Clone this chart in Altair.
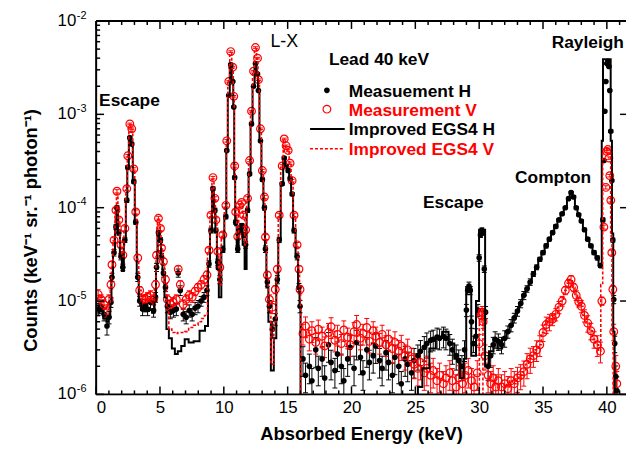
import altair as alt
import pandas as pd

# ---------------- data ----------------
# measurement H : (energy keV, counts, relative error)
MEAS_H = [
    (0.16, 8.2e-6, .15), (0.39, 8.6e-6, .15), (0.62, 7.2e-6, .15), (0.85, 5.4e-6, .2),
    (1.01, 6.7e-6, .15), (1.16, 9.7e-6, .12), (1.24, 1.8e-5, .1), (1.40, 3.3e-5, .08),
    (1.55, 6.2e-5, .06), (1.63, 1.0e-4, .05), (1.78, 5.4e-5, .06), (1.94, 3.0e-5, .08),
    (2.09, 2.3e-5, .08), (2.25, 4.5e-5, .06), (2.40, 1.2e-4, .05), (2.48, 2.7e-4, .04),
    (2.64, 5.6e-4, .03), (2.79, 4.8e-4, .03), (2.95, 1.9e-4, .04), (3.10, 7.0e-5, .05),
    (3.26, 1.8e-5, .1), (3.41, 1.0e-5, .12), (3.64, 8.2e-6, .15), (3.87, 9.0e-6, .15),
    (4.03, 8.2e-6, .15), (4.26, 9.7e-6, .15), (4.50, 7.9e-6, .15), (4.65, 1.1e-5, .12),
    (4.73, 2.3e-5, .1), (4.88, 5.4e-5, .06), (5.04, 4.5e-5, .06), (5.12, 3.0e-5, .08),
    (5.27, 2.0e-5, .1), (5.43, 1.4e-5, .1), (5.58, 8.8e-6, .15), (5.81, 7.6e-6, .15),
    (6.05, 7.9e-6, .15), (6.28, 8.2e-6, .15), (6.43, 2.0e-5, .1), (6.59, 1.3e-5, .12),
    (6.82, 7.2e-6, .15), (7.05, 6.7e-6, .15), (7.29, 7.9e-6, .15), (7.52, 7.2e-6, .15),
    (7.75, 8.4e-6, .15), (7.98, 8.8e-6, .15), (8.22, 1.0e-5, .12), (8.45, 1.1e-5, .12),
    (8.68, 1.3e-5, .12), (8.84, 2.5e-5, .08), (8.99, 5.7e-5, .06), (9.15, 1.6e-4, .04),
    (9.30, 9.4e-5, .05), (9.38, 5.7e-5, .06), (9.53, 2.6e-5, .08), (9.69, 1.7e-5, .1),
    (9.92, 3.6e-5, .08), (10.16, 8.0e-5, .05), (10.23, 4.1e-4, .03), (10.39, 1.6e-3, .02),
    (10.54, 3.4e-3, .02), (10.70, 2.25e-3, .02), (10.78, 1.2e-3, .02), (10.85, 2.1e-4, .04),
    (10.93, 7.0e-5, .05), (11.09, 3.6e-5, .08), (11.24, 5.7e-5, .06), (11.40, 6.4e-5, .06),
    (11.55, 5.1e-5, .06), (11.71, 4.0e-5, .08), (11.86, 9.4e-5, .05), (12.02, 2.3e-4, .04),
    (12.17, 7.9e-4, .03), (12.33, 2.0e-3, .02), (12.48, 3.5e-3, .02), (12.64, 2.7e-3, .02),
    (12.71, 1.8e-3, .02), (12.87, 5.2e-4, .03), (13.02, 2.0e-4, .04), (13.18, 1.0e-4, .05),
    (13.26, 3.6e-5, .08), (13.41, 1.6e-5, .1), (13.57, 8.8e-6, .15), (13.80, 5.0e-6, .2),
    (14.03, 6.4e-6, .15), (14.19, 1.7e-5, .1), (14.34, 4.5e-5, .06), (14.57, 1.8e-4, .04),
    (14.73, 3.4e-4, .03), (14.88, 2.8e-4, .03), (15.04, 2.5e-4, .04), (15.19, 2.05e-4, .04),
    (15.35, 1.4e-4, .04), (15.50, 5.7e-5, .06), (15.74, 3.0e-5, .08), (15.89, 1.4e-5, .1),
    (15.97, 8.8e-6, .15),
    (16.2, 2.4e-6, .35), (16.4, 1.6e-6, .35), (16.7, 2.0e-6, .35), (16.9, 1.4e-6, .35),
    (17.2, 3.0e-6, .35), (17.4, 1.9e-6, .35), (17.7, 2.4e-6, .35), (17.9, 1.5e-6, .35),
    (18.2, 3.4e-6, .35), (18.4, 2.2e-6, .35), (18.7, 1.8e-6, .35), (18.9, 2.7e-6, .35),
    (19.2, 2.0e-6, .35), (19.4, 1.4e-6, .35), (19.7, 2.4e-6, .35), (19.9, 3.2e-6, .35),
    (20.2, 1.9e-6, .35), (20.4, 3.6e-6, .35), (20.7, 2.5e-6, .35), (20.9, 1.7e-6, .35),
    (21.2, 3.0e-6, .35), (21.4, 2.2e-6, .35), (21.7, 2.6e-6, .35), (21.9, 3.3e-6, .35),
    (22.2, 2.3e-6, .35), (22.4, 1.9e-6, .35), (22.7, 2.8e-6, .35), (22.9, 2.2e-6, .35),
    (23.2, 1.6e-6, .35), (23.4, 2.5e-6, .35), (23.7, 2.0e-6, .35), (23.9, 1.3e-6, .35),
    (24.2, 2.4e-6, .35), (24.4, 2.1e-6, .35), (24.7, 1.7e-6, .35), (24.9, 2.3e-6, .35),
    (25.2, 2.6e-6, .3), (25.4, 2.9e-6, .3), (25.7, 3.2e-6, .3), (25.9, 3.5e-6, .3),
    (26.2, 3.8e-6, .25), (26.4, 3.9e-6, .25), (26.7, 4.1e-6, .25), (26.9, 4.0e-6, .25),
    (27.2, 4.2e-6, .25), (27.4, 4.0e-6, .25), (27.7, 3.5e-6, .25), (27.9, 3.0e-6, .3),
    (28.2, 2.6e-6, .3), (28.4, 2.3e-6, .3), (28.65, 2.0e-6, .3), (28.85, 3.0e-6, .25),
    (29.0, 8.0e-6, .15), (29.1, 1.3e-5, .1), (29.2, 1.45e-5, .1), (29.3, 1.3e-5, .1),
    (29.4, 6.0e-6, .15), (29.55, 3.5e-6, .2), (29.75, 4.2e-6, .2), (29.9, 8.0e-6, .15),
    (30.0, 2.9e-5, .08), (30.1, 5.1e-5, .06), (30.2, 5.7e-5, .06), (30.3, 5.4e-5, .06),
    (30.4, 2.2e-5, .08), (30.5, 7.6e-6, .15), (30.7, 2.0e-6, .3), (30.9, 2.6e-6, .25),
    (31.1, 3.4e-6, .2), (31.25, 3.9e-6, .2), (31.5, 3.7e-6, .2), (31.75, 3.4e-6, .2),
    (32.0, 4.0e-6, .2), (32.25, 4.7e-6, .15), (32.5, 5.5e-6, .15), (32.75, 6.6e-6, .12),
    (33.0, 7.8e-6, .12), (33.25, 9.4e-6, .1), (33.5, 1.15e-5, .1), (33.75, 1.35e-5, .08),
    (34.0, 1.6e-5, .08), (34.25, 1.95e-5, .06), (34.5, 2.3e-5, .06), (34.75, 2.8e-5, .05),
    (35.0, 3.3e-5, .05), (35.25, 3.9e-5, .05), (35.5, 4.6e-5, .04), (35.75, 5.4e-5, .04),
    (36.0, 6.3e-5, .04), (36.25, 7.4e-5, .03), (36.5, 8.6e-5, .03), (36.75, 1.0e-4, .03),
    (37.0, 1.25e-4, .03), (37.2, 1.45e-4, .03), (37.4, 1.3e-4, .03), (37.6, 1.0e-4, .03),
    (37.8, 8.4e-5, .03), (38.0, 7.2e-5, .03), (38.25, 5.8e-5, .04), (38.5, 4.6e-5, .04),
    (38.75, 3.9e-5, .04), (39.0, 3.3e-5, .05), (39.25, 2.9e-5, .05), (39.5, 2.4e-5, .05),
    (39.69, 7.4e-5, .05), (39.77, 3.2e-4, .03), (39.84, 1.08e-3, .02), (39.92, 2.25e-3, .02),
    (40.0, 3.5e-3, .02), (40.08, 3.7e-3, .02), (40.16, 3.25e-3, .02), (40.23, 1.8e-3, .02),
    (40.31, 6.6e-4, .03), (40.39, 1.95e-4, .03), (40.47, 4.5e-5, .05), (40.54, 1.04e-5, .1),
    (40.62, 3.5e-6, .2), (40.70, 1.55e-6, .3), (40.78, 1.1e-6, .4),
]

# measurement V : (energy keV, counts, relative error)
MEAS_V = [
    (0.16, 1.18e-5, .12), (0.39, 1.04e-5, .12), (0.62, 9.2e-6, .12), (0.85, 7.9e-6, .15),
    (1.01, 1.04e-5, .12), (1.16, 1.5e-5, .1), (1.24, 2.45e-5, .08), (1.40, 4.5e-5, .06),
    (1.55, 9.4e-5, .05), (1.63, 1.5e-4, .04), (1.78, 7.4e-5, .05), (1.94, 4.0e-5, .06),
    (2.09, 3.1e-5, .08), (2.25, 6.0e-5, .06), (2.40, 1.6e-4, .04), (2.48, 3.6e-4, .03),
    (2.64, 7.9e-4, .02), (2.79, 7.0e-4, .02), (2.95, 2.6e-4, .03), (3.10, 9.0e-5, .05),
    (3.26, 2.9e-5, .08), (3.41, 1.3e-5, .1), (3.64, 1.04e-5, .12), (3.87, 1.05e-5, .12),
    (4.03, 1.1e-5, .12), (4.26, 1.15e-5, .12), (4.50, 1.04e-5, .12), (4.65, 1.5e-5, .1),
    (4.73, 3.1e-5, .08), (4.88, 7.7e-5, .05), (5.04, 6.0e-5, .06), (5.12, 3.7e-5, .06),
    (5.27, 2.65e-5, .08), (5.43, 1.7e-5, .1), (5.58, 1.04e-5, .12), (5.81, 9.2e-6, .12),
    (6.05, 9.7e-6, .12), (6.28, 1.04e-5, .12), (6.43, 2.2e-5, .08), (6.59, 1.5e-5, .1),
    (6.82, 9.2e-6, .12), (7.05, 1.04e-5, .12), (7.29, 1.15e-5, .12), (7.52, 1.1e-5, .12),
    (7.75, 1.27e-5, .1), (7.98, 1.4e-5, .1), (8.22, 1.5e-5, .1), (8.45, 1.7e-5, .1),
    (8.68, 1.9e-5, .1), (8.84, 3.5e-5, .06), (8.99, 8.3e-5, .05), (9.15, 2.1e-4, .03),
    (9.30, 1.26e-4, .04), (9.38, 7.4e-5, .05), (9.53, 3.4e-5, .06), (9.69, 2.3e-5, .08),
    (9.92, 5.1e-5, .06), (10.16, 1.06e-4, .04), (10.23, 5.2e-4, .03), (10.39, 2.25e-3, .02),
    (10.54, 4.7e-3, .02), (10.70, 3.2e-3, .02), (10.78, 1.56e-3, .02), (10.85, 2.8e-4, .03),
    (10.93, 9.0e-5, .05), (11.09, 4.9e-5, .06), (11.24, 1.06e-4, .04), (11.40, 1.14e-4, .04),
    (11.55, 8.3e-5, .05), (11.71, 5.8e-5, .06), (11.86, 1.26e-4, .04), (12.02, 3.2e-4, .03),
    (12.17, 1.08e-3, .02), (12.33, 2.9e-3, .02), (12.48, 5.2e-3, .02), (12.64, 4.0e-3, .02),
    (12.71, 2.35e-3, .02), (12.87, 7.0e-4, .02), (13.02, 2.5e-4, .03), (13.18, 1.3e-4, .04),
    (13.26, 4.85e-5, .06), (13.41, 1.9e-5, .08), (13.57, 1.04e-5, .12), (13.80, 8.6e-6, .15),
    (14.03, 1.33e-5, .1), (14.19, 2.2e-5, .08), (14.34, 8.3e-5, .05), (14.57, 2.8e-4, .03),
    (14.73, 5.45e-4, .02), (14.88, 4.6e-4, .02), (15.04, 4.1e-4, .03), (15.19, 3.0e-4, .03),
    (15.35, 1.95e-4, .03), (15.50, 8.3e-5, .05), (15.74, 4.0e-5, .06), (15.89, 2.2e-5, .08),
    (15.97, 1.33e-5, .1),
    (16.2, 4.5e-6, .25), (16.4, 5.4e-6, .25), (16.7, 3.9e-6, .25), (16.9, 4.8e-6, .25),
    (17.2, 3.6e-6, .25), (17.4, 5.0e-6, .25), (17.7, 4.2e-6, .25), (17.9, 3.3e-6, .25),
    (18.2, 4.6e-6, .25), (18.4, 5.3e-6, .25), (18.7, 3.8e-6, .25), (18.9, 4.4e-6, .25),
    (19.2, 3.5e-6, .25), (19.4, 4.9e-6, .25), (19.7, 4.1e-6, .25), (19.9, 3.4e-6, .25),
    (20.2, 4.7e-6, .25), (20.4, 5.6e-6, .25), (20.7, 4.0e-6, .25), (20.9, 4.5e-6, .25),
    (21.2, 5.2e-6, .25), (21.4, 3.7e-6, .25), (21.7, 4.8e-6, .25), (21.9, 4.2e-6, .25),
    (22.2, 3.6e-6, .25), (22.4, 4.4e-6, .25), (22.7, 3.4e-6, .25), (22.9, 3.9e-6, .25),
    (23.2, 3.1e-6, .3), (23.4, 3.6e-6, .3), (23.7, 2.9e-6, .3), (23.9, 3.3e-6, .3),
    (24.2, 2.6e-6, .3), (24.4, 3.0e-6, .3), (24.7, 2.4e-6, .3), (24.9, 2.1e-6, .3),
    (25.2, 1.9e-6, .35), (25.4, 2.2e-6, .35), (25.7, 1.7e-6, .35), (25.9, 1.9e-6, .35),
    (26.2, 1.6e-6, .35), (26.4, 1.8e-6, .35), (26.7, 1.4e-6, .35), (26.9, 1.6e-6, .35),
    (27.2, 1.3e-6, .35), (27.4, 1.5e-6, .35), (27.7, 1.7e-6, .35), (27.9, 1.4e-6, .35),
    (28.2, 1.2e-6, .35), (28.4, 1.5e-6, .35), (28.7, 1.3e-6, .35), (28.9, 1.6e-6, .35),
    (29.15, 1.8e-6, .35), (29.4, 1.4e-6, .35), (29.6, 1.2e-6, .35), (29.85, 1.7e-6, .35),
    (30.0, 3.5e-6, .25), (30.16, 7.0e-6, .15), (30.23, 7.6e-6, .15), (30.31, 6.0e-6, .15),
    (30.46, 2.6e-6, .3), (30.7, 1.6e-6, .35), (30.9, 1.3e-6, .35), (31.1, 1.5e-6, .35),
    (31.3, 1.2e-6, .35), (31.5, 1.4e-6, .35), (31.75, 1.2e-6, .35), (32.0, 1.3e-6, .35),
    (32.25, 1.15e-6, .35), (32.5, 1.4e-6, .35), (32.75, 1.3e-6, .35), (33.0, 1.5e-6, .3),
    (33.25, 1.6e-6, .3), (33.5, 1.75e-6, .3), (33.75, 2.1e-6, .3), (34.0, 2.4e-6, .3),
    (34.25, 2.6e-6, .25), (34.5, 3.0e-6, .25), (34.75, 3.4e-6, .25), (35.0, 4.6e-6, .2),
    (35.25, 5.6e-6, .2), (35.5, 6.0e-6, .2), (35.75, 6.4e-6, .15), (36.0, 7.2e-6, .15),
    (36.25, 8.6e-6, .15), (36.5, 1.0e-5, .12), (36.75, 1.3e-5, .1), (37.0, 1.55e-5, .1),
    (37.2, 1.7e-5, .1), (37.4, 1.4e-5, .1), (37.6, 1.15e-5, .12), (37.8, 9.8e-6, .12),
    (38.0, 8.8e-6, .15), (38.25, 7.0e-6, .15), (38.5, 5.8e-6, .2), (38.75, 4.8e-6, .2),
    (39.0, 3.9e-6, .2), (39.25, 3.4e-6, .25), (39.5, 2.9e-6, .25),
    (39.61, 1.0e-5, .1), (39.77, 6.2e-5, .05), (39.92, 1.65e-4, .04), (40.0, 4.0e-4, .03),
    (40.08, 4.2e-4, .03), (40.16, 3.4e-4, .03), (40.23, 2.2e-4, .03), (40.31, 1.2e-4, .04),
    (40.39, 3.3e-5, .06), (40.47, 1.33e-5, .1), (40.54, 4.7e-6, .2), (40.70, 2.0e-6, .3),
    (40.78, 1.3e-6, .35),
]

# Improved EGS4 H (step histogram): (energy keV, counts); 3e-7 = below the axis
SIM_H = [
    (0.1, 7.5e-6), (0.4, 7.8e-6), (0.7, 6.5e-6), (0.9, 6.0e-6), (1.05, 6.8e-6),
    (1.16, 9.5e-6), (1.24, 1.8e-5), (1.40, 3.3e-5), (1.55, 6.2e-5), (1.63, 1.0e-4),
    (1.78, 5.4e-5), (1.94, 3.0e-5), (2.09, 2.1e-5), (2.25, 4.5e-5), (2.40, 1.2e-4),
    (2.48, 2.7e-4), (2.64, 5.8e-4), (2.79, 5.0e-4), (2.95, 1.9e-4), (3.10, 7.0e-5),
    (3.26, 1.8e-5), (3.41, 1.0e-5), (3.64, 8.0e-6), (4.03, 7.8e-6), (4.26, 8.0e-6),
    (4.50, 7.5e-6), (4.65, 1.0e-5), (4.73, 2.2e-5), (4.88, 5.4e-5), (5.04, 4.5e-5),
    (5.12, 3.0e-5), (5.27, 1.9e-5), (5.43, 1.1e-5), (5.58, 5.0e-6), (5.81, 4.0e-6),
    (6.05, 3.1e-6), (6.28, 2.7e-6), (6.51, 2.9e-6), (6.82, 3.3e-6), (7.05, 3.9e-6),
    (7.44, 3.6e-6), (7.83, 3.7e-6), (8.37, 4.8e-6), (8.68, 5.4e-6), (8.84, 2.4e-5),
    (8.99, 5.6e-5), (9.15, 1.6e-4), (9.30, 9.4e-5), (9.38, 5.5e-5), (9.53, 2.2e-5),
    (9.69, 1.1e-5), (9.92, 3.4e-5), (10.16, 8.0e-5), (10.23, 4.1e-4), (10.39, 1.6e-3),
    (10.54, 3.5e-3), (10.70, 2.3e-3), (10.78, 1.2e-3), (10.85, 2.1e-4), (10.93, 6.5e-5),
    (11.09, 3.4e-5), (11.24, 5.5e-5), (11.40, 6.0e-5), (11.55, 4.0e-5), (11.71, 2.2e-5),
    (11.86, 9.0e-5), (12.02, 2.3e-4), (12.17, 7.9e-4), (12.33, 2.0e-3), (12.48, 3.6e-3),
    (12.64, 2.8e-3), (12.71, 1.8e-3), (12.87, 5.2e-4), (13.02, 2.0e-4), (13.18, 9.5e-5),
    (13.26, 3.4e-5), (13.41, 1.4e-5), (13.57, 6.0e-6), (13.80, 1.8e-6), (14.03, 4.0e-6),
    (14.19, 1.6e-5), (14.34, 4.5e-5), (14.57, 1.8e-4), (14.73, 3.5e-4), (14.88, 2.8e-4),
    (15.04, 2.5e-4), (15.19, 2.0e-4), (15.35, 1.4e-4), (15.50, 5.7e-5), (15.74, 3.0e-5),
    (15.89, 1.4e-5), (15.97, 9.0e-6), (16.05, 3e-7), (25.1, 3e-7), (25.3, 1.2e-6),
    (25.8, 1.9e-6), (26.4, 3.1e-6), (26.8, 4.1e-6), (27.4, 4.7e-6), (27.8, 3.5e-6),
    (28.3, 2.4e-6), (28.7, 1.5e-6), (28.9, 2.4e-6), (29.07, 1.4e-5), (29.3, 1.4e-5),
    (29.46, 2.6e-6), (29.6, 2.6e-6), (29.9, 1.0e-5), (30.08, 5.8e-5), (30.23, 6.0e-5),
    (30.39, 5.8e-5), (30.54, 2.0e-6), (31.0, 2.9e-6), (31.25, 3.9e-6), (31.6, 3.1e-6),
    (32.0, 4.0e-6), (32.25, 4.7e-6), (32.5, 5.5e-6), (32.75, 6.6e-6), (33.0, 7.8e-6),
    (33.25, 9.4e-6), (33.5, 1.15e-5), (33.75, 1.35e-5), (34.0, 1.6e-5), (34.25, 1.95e-5),
    (34.5, 2.3e-5), (34.75, 2.8e-5), (35.0, 3.3e-5), (35.25, 3.9e-5), (35.5, 4.6e-5),
    (35.75, 5.4e-5), (36.0, 6.3e-5), (36.25, 7.4e-5), (36.5, 8.6e-5), (36.75, 1.0e-4),
    (37.0, 1.25e-4), (37.2, 1.45e-4), (37.4, 1.3e-4), (37.6, 1.0e-4), (37.8, 8.4e-5),
    (38.0, 7.2e-5), (38.25, 5.8e-5), (38.5, 4.6e-5), (38.75, 3.9e-5), (39.0, 3.3e-5),
    (39.25, 2.9e-5), (39.45, 2.4e-5), (39.55, 2.3e-5), (39.65, 5.2e-4), (39.75, 3.9e-3),
    (39.85, 3.9e-3), (39.95, 3.9e-3), (40.05, 3.9e-3), (40.15, 3.9e-3), (40.25, 3.9e-3),
    (40.35, 5.2e-4), (40.45, 5.3e-5), (40.55, 4.7e-6), (40.65, 3e-7), (41.5, 3e-7),
]

# Improved EGS4 V (step histogram): (energy keV, counts); 3e-7 = below the axis
SIM_V = [
    (0.1, 1.15e-5), (0.4, 1.1e-5), (0.7, 9.0e-6), (0.9, 8.0e-6), (1.05, 9.5e-6),
    (1.16, 1.4e-5), (1.24, 2.4e-5), (1.40, 4.4e-5), (1.55, 9.0e-5), (1.63, 1.4e-4),
    (1.78, 7.0e-5), (1.94, 3.9e-5), (2.09, 3.0e-5), (2.25, 5.8e-5), (2.40, 1.55e-4),
    (2.48, 3.5e-4), (2.64, 7.5e-4), (2.79, 6.6e-4), (2.95, 2.5e-4), (3.10, 8.8e-5),
    (3.26, 2.8e-5), (3.41, 1.3e-5), (3.64, 1.0e-5), (4.03, 1.0e-5), (4.26, 1.05e-5),
    (4.50, 1.0e-5), (4.65, 1.4e-5), (4.73, 3.0e-5), (4.88, 7.5e-5), (5.04, 5.8e-5),
    (5.12, 3.6e-5), (5.27, 2.5e-5), (5.43, 1.5e-5), (5.58, 8.0e-6), (5.81, 5.0e-6),
    (6.05, 4.6e-6), (6.28, 4.5e-6), (6.51, 4.6e-6), (6.82, 4.6e-6), (7.05, 4.7e-6),
    (7.44, 5.2e-6), (7.83, 5.5e-6), (8.14, 6.0e-6), (8.37, 6.5e-6), (8.60, 7.0e-6),
    (8.84, 3.4e-5), (8.99, 8.0e-5), (9.15, 2.0e-4), (9.30, 1.2e-4), (9.38, 7.2e-5),
    (9.53, 3.2e-5), (9.69, 1.5e-5), (9.92, 4.9e-5), (10.16, 1.0e-4), (10.23, 5.0e-4),
    (10.39, 2.2e-3), (10.54, 4.5e-3), (10.70, 3.1e-3), (10.78, 1.5e-3), (10.85, 2.7e-4),
    (10.93, 8.5e-5), (11.09, 4.7e-5), (11.24, 1.0e-4), (11.40, 1.1e-4), (11.55, 7.8e-5),
    (11.71, 4.0e-5), (11.86, 1.2e-4), (12.02, 3.1e-4), (12.17, 1.05e-3), (12.33, 2.8e-3),
    (12.48, 5.0e-3), (12.64, 3.9e-3), (12.71, 2.3e-3), (12.87, 6.8e-4), (13.02, 2.4e-4),
    (13.18, 1.25e-4), (13.26, 4.6e-5), (13.41, 1.8e-5), (13.57, 8.0e-6), (13.80, 2.1e-6),
    (14.03, 6.0e-6), (14.19, 2.1e-5), (14.34, 8.0e-5), (14.57, 2.7e-4), (14.73, 5.3e-4),
    (14.88, 4.5e-4), (15.04, 4.0e-4), (15.19, 2.9e-4), (15.35, 1.9e-4), (15.50, 8.0e-5),
    (15.74, 3.9e-5), (15.89, 2.1e-5), (15.97, 1.3e-5), (16.05, 3e-7), (29.95, 3e-7),
    (30.08, 8.2e-6), (30.23, 8.2e-6), (30.36, 3e-7), (31.9, 3e-7),
    (32.0, 1.3e-6), (32.25, 1.2e-6), (32.5, 1.4e-6), (32.75, 1.3e-6), (33.0, 1.5e-6),
    (33.25, 1.6e-6), (33.5, 1.75e-6), (33.75, 2.1e-6), (34.0, 2.4e-6), (34.25, 2.6e-6),
    (34.5, 3.0e-6), (34.75, 3.4e-6), (35.0, 4.6e-6), (35.25, 5.6e-6), (35.5, 6.0e-6),
    (35.75, 6.4e-6), (36.0, 7.2e-6), (36.25, 8.6e-6), (36.5, 1.0e-5), (36.75, 1.3e-5),
    (37.0, 1.55e-5), (37.2, 1.7e-5), (37.4, 1.4e-5), (37.6, 1.15e-5), (37.8, 9.8e-6),
    (38.0, 8.8e-6), (38.25, 7.0e-6), (38.5, 5.8e-6), (38.75, 4.8e-6), (39.0, 3.9e-6),
    (39.25, 3.4e-6), (39.45, 2.9e-6), (39.6, 1.5e-5), (39.75, 4.2e-4), (39.85, 4.3e-4),
    (39.95, 4.3e-4), (40.05, 4.2e-4), (40.15, 4.3e-4), (40.25, 4.2e-4), (40.35, 5.0e-5),
    (40.45, 4.5e-6), (40.55, 3e-7), (41.5, 3e-7),
]

X_MAJOR = [0, 5, 10, 15, 20, 25, 30, 35, 40]
X_MINOR = [i for i in range(0, 42) if i % 5]
Y_DECADES = [1e-2, 1e-3, 1e-4, 1e-5, 1e-6]
Y_EXP = ["-2", "-3", "-4", "-5", "-6"]
Y_MINOR = [m * d for d in [1e-6, 1e-5, 1e-4, 1e-3] for m in range(2, 10)]

LEGEND_TEXT = ["Measuement H", "Measurement V", "Improved EGS4 H", "Improved EGS4 V"]

# ---------------- chart ----------------
W, H = 535, 377
TOP = 11         # plot top sits at 8 + TOP px on the page
FONT = "Liberation Sans"
xs = alt.Scale(domain=[0, 41.5], nice=False, zero=False)
ys = alt.Scale(type="log", domain=[1e-6, 1e-2], nice=False)

x_axis = alt.Axis(values=X_MAJOR, ticks=False, tickSize=0, domain=False, grid=False,
                  labelFontSize=17, labelPadding=5, labelFont=FONT, labelColor="black",
                  title="Absorbed Energy (keV)", titleFontSize=18.5, titleFont=FONT,
                  titleFontWeight="bold", titleColor="black",
                  titleY=46, titleBaseline="alphabetic")
y_axis = alt.Axis(labels=False, ticks=False, tickSize=0, domain=False, grid=False,
                  title="Counts (keV⁻¹ sr.⁻¹ photon⁻¹)", titleFontSize=18.5, titleFont=FONT,
                  titleFontWeight="bold", titleColor="black", titleAngle=270,
                  titleX=-66, titleY=211, titleAlign="center", titleBaseline="middle")


def X(f):
    return alt.X(f, scale=xs, axis=x_axis)


def Y(f):
    return alt.Y(f, scale=ys, axis=y_axis)


def meas_df(rows):
    df = pd.DataFrame(rows, columns=["E", "v", "err"])
    df["lo"] = df["v"] * (1 - df["err"])
    df["hi"] = df["v"] * (1 + df["err"])
    return df


dH = meas_df(MEAS_H)
dV = meas_df(MEAS_V)
sH = pd.DataFrame(SIM_H, columns=["E", "v"])
sV = pd.DataFrame(SIM_V, columns=["E", "v"])
one = pd.DataFrame({"a": [0]})

layers = []

# error bars with caps
for d, col in [(dH, "black"), (dV, "red")]:
    layers.append(alt.Chart(d).mark_rule(color=col, strokeWidth=1, clip=True).encode(
        x=X("E:Q"), y=Y("lo:Q"), y2="hi:Q"))
    layers.append(alt.Chart(d).transform_fold(["lo", "hi"], as_=["k", "cap"]).mark_rule(
        color=col, strokeWidth=1, xOffset=-2.5, x2Offset=2.5, clip=True).encode(
        x=X("E:Q"), x2=alt.X2("E"), y=Y("cap:Q")))

# measurement points
layers.append(alt.Chart(dH).mark_circle(size=32, color="black", opacity=1, clip=True).encode(
    x=X("E:Q"), y=Y("v:Q")))
layers.append(alt.Chart(dV).mark_point(shape="circle", size=60, color="red", filled=False,
                                       strokeWidth=1.2, opacity=1, clip=True).encode(
    x=X("E:Q"), y=Y("v:Q")))

# simulations
layers.append(alt.Chart(sH).mark_line(interpolate="step", color="black", strokeWidth=2,
                                      clip=True).encode(x=X("E:Q"), y=Y("v:Q")))
layers.append(alt.Chart(sV).mark_line(interpolate="step", color="red", strokeWidth=1.6,
                                      strokeDash=[3, 2], clip=True).encode(x=X("E:Q"), y=Y("v:Q")))

# frame (left, top, bottom; the right edge runs off the picture)
for enc in [dict(x=alt.value(0), y=alt.value(0), y2=alt.value(H)),
            dict(y=alt.value(0), x=alt.value(0), x2=alt.value(W)),
            dict(y=alt.value(H), x=alt.value(0), x2=alt.value(W))]:
    layers.append(alt.Chart(one).mark_rule(color="black", strokeWidth=2).encode(**enc))

# inward ticks
dxM = pd.DataFrame({"t": X_MAJOR})
dxm = pd.DataFrame({"t": X_MINOR})
dyM = pd.DataFrame({"t": Y_DECADES, "e": Y_EXP})
dym = pd.DataFrame({"t": Y_MINOR})
for d, ln in [(dxM, 8), (dxm, 4)]:
    layers.append(alt.Chart(d).mark_rule(color="black", strokeWidth=1.5).encode(
        x=X("t:Q"), y=alt.value(H), y2=alt.value(H - ln)))
    layers.append(alt.Chart(d).mark_rule(color="black", strokeWidth=1.5).encode(
        x=X("t:Q"), y=alt.value(0), y2=alt.value(ln)))
for d, ln in [(dyM, 8), (dym, 4)]:
    layers.append(alt.Chart(d).mark_rule(color="black", strokeWidth=1.5).encode(
        y=Y("t:Q"), x=alt.value(0), x2=alt.value(ln)))
layers.append(alt.Chart(dyM).mark_rule(color="black", strokeWidth=1.5).encode(
    y=Y("t:Q"), x=alt.value(W), x2=alt.value(W - 6)))

# y tick labels 10^n
layers.append(alt.Chart(dyM).mark_text(align="right", baseline="middle", fontSize=17,
                                       font=FONT, color="black").encode(
    y=Y("t:Q"), x=alt.value(-20), text=alt.value("10")))
layers.append(alt.Chart(dyM).mark_text(align="left", baseline="middle", fontSize=11,
                                       font=FONT, color="black", dy=-5.5).encode(
    y=Y("t:Q"), x=alt.value(-19.5), text="e:N"))


def label(txt, x, y, size=17.5, weight="bold", color="black"):
    # y given as page position (px); converted to plot coordinates
    return alt.Chart(one).mark_text(align="left", baseline="alphabetic", fontSize=size,
                                    font=FONT, fontWeight=weight, color=color).encode(
        x=alt.value(x), y=alt.value(y - 8 - TOP), text=alt.value(txt))


layers += [
    label("Escape", 3, 105),
    label("L-X", 176, 45, size=18, weight="normal"),
    label("Lead 40 keV", 235, 63),
    label("Rayleigh", 460, 46),
    label("Compton", 423, 183),
    label("Escape", 330, 208),
]

# legend
layers.append(alt.Chart(one).mark_circle(size=32, color="black", opacity=1).encode(
    x=alt.value(233), y=alt.value(89 - 8 - TOP)))
layers.append(alt.Chart(one).mark_point(shape="circle", size=60, color="red", filled=False,
                                        strokeWidth=1.2, opacity=1).encode(
    x=alt.value(233), y=alt.value(108 - 8 - TOP)))
layers.append(alt.Chart(one).mark_rule(color="black", strokeWidth=2).encode(
    x=alt.value(216), x2=alt.value(251), y=alt.value(128 - 8 - TOP)))
layers.append(alt.Chart(one).mark_rule(color="red", strokeWidth=1.6, strokeDash=[3, 2]).encode(
    x=alt.value(216), x2=alt.value(251), y=alt.value(148 - 8 - TOP)))
for txt, yy, col in zip(LEGEND_TEXT, [95.5, 114.5, 134.5, 154.5], ["black", "red", "black", "red"]):
    layers.append(label(txt, 255, yy, color=col))

chart = alt.layer(*layers).properties(
    width=W, height=H,
    autosize=alt.AutoSizeParams(type="none"),
    padding={"left": 89, "top": TOP, "right": 0, "bottom": 50},
).configure_view(stroke=None).configure(font=FONT)

chart.save("out.html", embed_options={"renderer": "svg", "actions": False})
